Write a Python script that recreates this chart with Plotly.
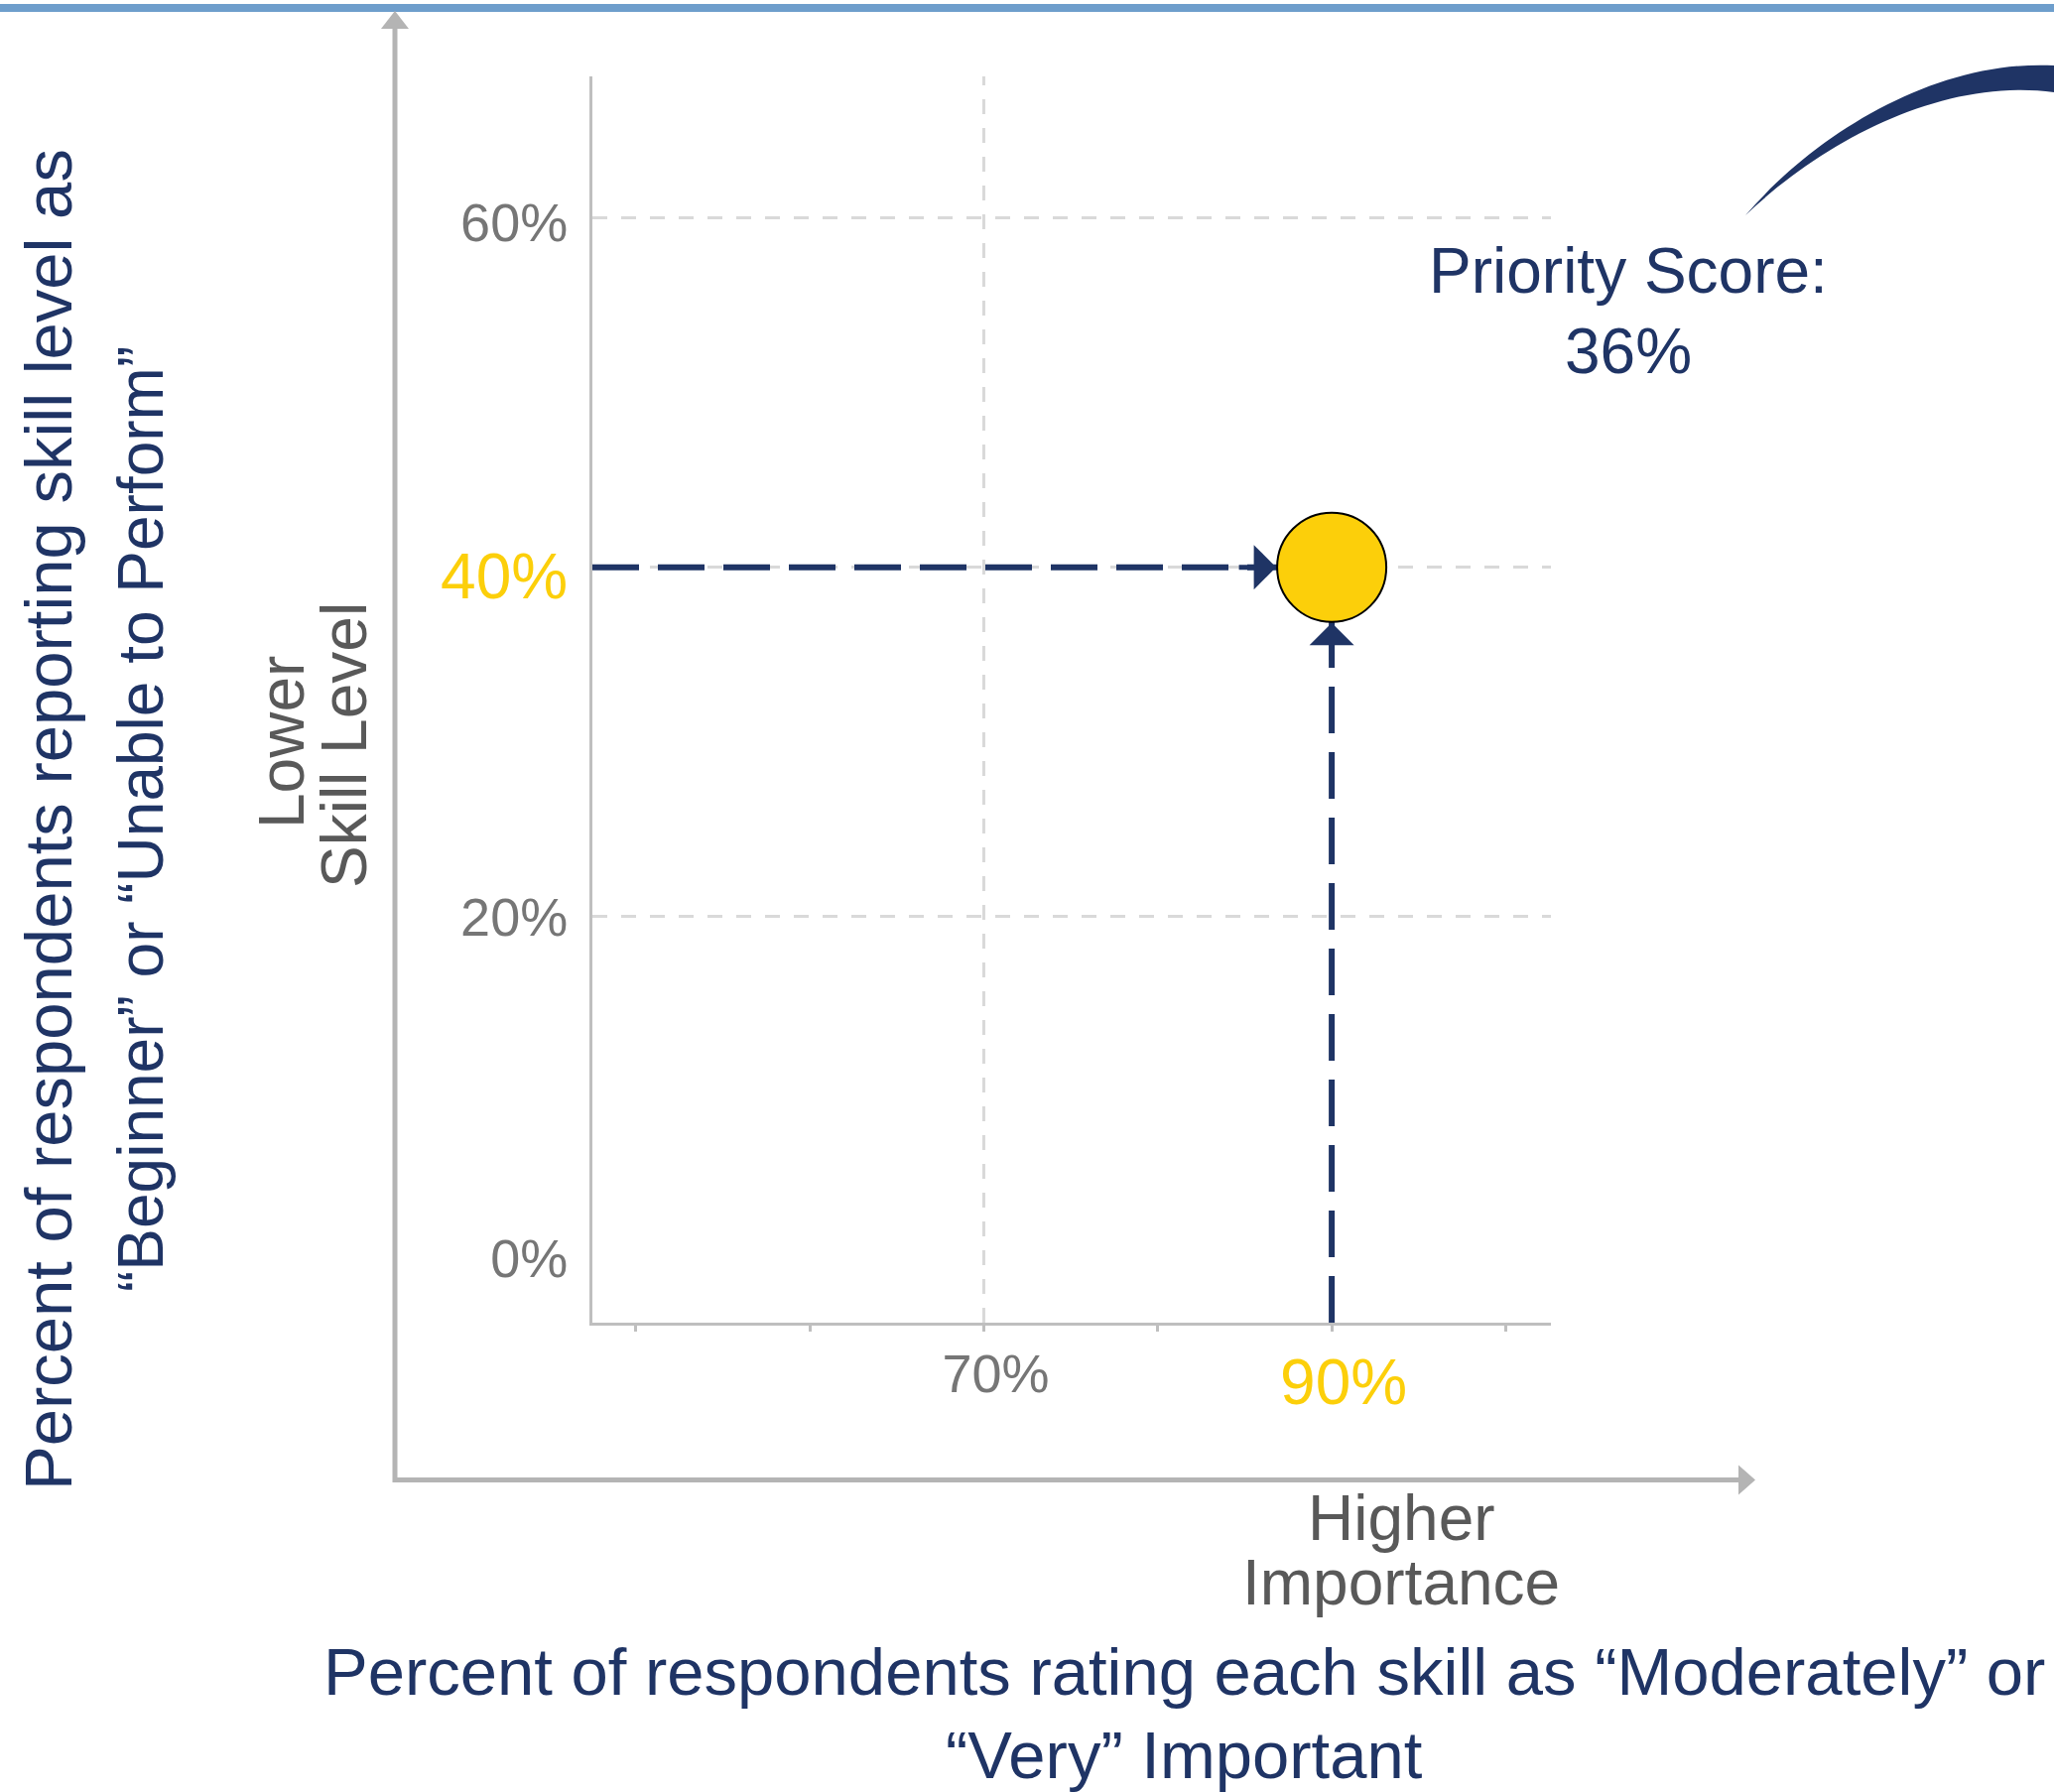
import plotly.graph_objects as go

# ---- data -------------------------------------------------------------
importance_pct = [90]          # % rating the skill "Moderately"/"Very" important
low_skill_pct = [40]           # % reporting "Beginner"/"Unable to Perform"

x_tick_vals = [50, 60, 70, 80, 90, 100]
x_labelled = [70, 90]
y_tick_vals = [0, 20, 40, 60]
x_grid_vals = [70]

x_title_lines = ["Percent of respondents rating each skill as \u201cModerately\u201d or",
                 "\u201cVery\u201d Important"]
y_title_lines = ["Percent of respondents reporting skill level as",
                 "\u201cBeginner\u201d or \u201cUnable to Perform\u201d"]

# ---- style ------------------------------------------------------------
W, H = 2070, 1806
FONT = "Liberation Sans, Arial, sans-serif"
NAVY = "#1F3465"
YELLOW = "#FCCF0A"
TICK_GREY = "#767676"
LABEL_GREY = "#595959"
AXIS_GREY = "#BFBFBF"
GRID_GREY = "#D9D9D9"
ARROW_GREY = "#B4B4B4"
BAR_BLUE = "#6E9ECC"

X_RANGE = [47.5, 102.6]
Y_RANGE = [-3.24, 68.1]
MARKER_D = 110

# small vertical nudges for individual tick labels (px, positive = up)
x_label_lift = {70: 12}
y_label_lift = {0: 8, 60: -4, 40: -12}


def px(x):
    return x / W


def py(y):
    return 1 - y / H


def path_px(points):
    """Build an SVG path (paper coords) from (cmd, (x, y), ...) pixel entries."""
    parts = []
    for cmd, *pts in points:
        coords = " ".join(f"{px(a):.5f},{py(b):.5f}" for a, b in pts)
        parts.append(f"{cmd}{coords}")
    return " ".join(parts) + " Z"


pt_x, pt_y = importance_pct[0], low_skill_pct[0]
priority = pt_x * pt_y / 100


def tick_label(v, highlight, lift):
    style = f"baseline-shift:{lift}px;" if lift else ""
    if highlight:
        style += f"color:{YELLOW};font-size:64px;"
    text = f"{v}%"
    return f'<span style="{style}">{text}</span>' if style else text


x_tick_text = [tick_label(v, v == pt_x, x_label_lift.get(v, 0)) if v in x_labelled else ""
               for v in x_tick_vals]
y_tick_text = [tick_label(v, v == pt_y, y_label_lift.get(v, 0)) for v in y_tick_vals]

fig = go.Figure()

# dashed guide lines from the axes to the point
guide = dict(color=NAVY, width=6, dash="47px,19px")
fig.add_trace(go.Scatter(x=[X_RANGE[0], pt_x], y=[pt_y, pt_y], mode="lines",
                         line=guide, hoverinfo="skip"))
fig.add_trace(go.Scatter(x=[pt_x, pt_x], y=[Y_RANGE[0], pt_y], mode="lines",
                         line=guide, hoverinfo="skip"))

# the skill point
fig.add_trace(go.Scatter(
    x=importance_pct, y=low_skill_pct, mode="markers",
    marker=dict(size=MARKER_D, color=YELLOW, line=dict(color="#000000", width=2)),
    hoverinfo="skip"))

shapes = [
    # header rule
    dict(type="rect", xref="paper", yref="paper", x0=0, x1=1, y0=py(12), y1=py(4),
         fillcolor=BAR_BLUE, line=dict(width=0), layer="above"),
    # outer "higher / lower" arrows
    dict(type="line", xref="paper", yref="paper", x0=px(398), x1=px(398),
         y0=py(1494), y1=py(26), line=dict(color=ARROW_GREY, width=5)),
    dict(type="path", xref="paper", yref="paper",
         path=path_px([("M", (398, 11)), ("L", (384, 29)), ("L", (412, 29))]),
         fillcolor=ARROW_GREY, line=dict(width=0)),
    dict(type="line", xref="paper", yref="paper", x0=px(396), x1=px(1754),
         y0=py(1491.5), y1=py(1491.5), line=dict(color=ARROW_GREY, width=5)),
    dict(type="path", xref="paper", yref="paper",
         path=path_px([("M", (1769, 1491.5)), ("L", (1752, 1476.5)), ("L", (1752, 1506.5))]),
         fillcolor=ARROW_GREY, line=dict(width=0)),
    # decorative swoosh
    dict(type="path", xref="paper", yref="paper",
         path=path_px([("M", (1759, 217)),
                       ("C", (1830, 135), (1950, 60), (2070, 66)),
                       ("L", (2070, 93)),
                       ("C", (1960, 78), (1840, 140), (1759, 217))]),
         fillcolor=NAVY, line=dict(width=0)),
]
for gx in x_grid_vals:
    shapes.append(dict(type="line", xref="x", yref="y domain", x0=gx, x1=gx, y0=0, y1=1,
                       line=dict(color=GRID_GREY, width=3, dash="15px,14px"), layer="below"))

annotations = []
# arrowheads on the guide lines, stopping at the marker's edge
for ax_off, ay_off in [(-95, 0), (0, 95)]:
    annotations.append(dict(
        x=pt_x, y=pt_y, xref="x", yref="y", text="", showarrow=True,
        ax=ax_off, ay=ay_off, standoff=MARKER_D / 2 + 1,
        arrowhead=1, arrowsize=1.5, arrowwidth=5, arrowcolor=NAVY))


def label(text, x, y, size, color, angle=0):
    annotations.append(dict(
        text=text, x=px(x), y=py(y), xref="paper", yref="paper",
        xanchor="center", yanchor="middle", showarrow=False, textangle=angle,
        font=dict(family=FONT, size=size, color=color)))


label("Priority Score:", 1641, 273, 64, NAVY)
label(f"{priority:.0f}%", 1641, 354, 64, NAVY)
label("Higher", 1412, 1530, 64, LABEL_GREY)
label("Importance", 1412, 1595, 64, LABEL_GREY)
label("Lower", 284, 748, 64, LABEL_GREY, -90)
label("Skill Level", 347, 751, 64, LABEL_GREY, -90)
label(x_title_lines[0], 1193, 1684, 67, NAVY)
label(x_title_lines[1], 1193, 1768, 67, NAVY)
label(y_title_lines[0], 49, 826, 67, NAVY, -90)
label(y_title_lines[1], 142, 826, 64, NAVY, -90)

fig.update_layout(
    width=W, height=H,
    margin=dict(l=0, r=0, t=0, b=0),
    paper_bgcolor="white", plot_bgcolor="white",
    showlegend=False,
    font=dict(family=FONT),
    shapes=shapes,
    annotations=annotations,
    xaxis=dict(
        domain=[px(597), px(1563)], range=X_RANGE,
        showline=True, linecolor=AXIS_GREY, linewidth=3,
        ticks="outside", ticklen=6, tickwidth=3, tickcolor=AXIS_GREY,
        tickvals=x_tick_vals, ticktext=x_tick_text,
        tickfont=dict(family=FONT, size=54, color=TICK_GREY),
        ticklabelstandoff=8, ticklabelshift=12,
        showgrid=False, zeroline=False, fixedrange=True),
    yaxis=dict(
        domain=[py(1333), py(77)], range=Y_RANGE,
        showline=True, linecolor=AXIS_GREY, linewidth=3,
        ticks="", tickvals=y_tick_vals, ticktext=y_tick_text,
        tickfont=dict(family=FONT, size=54, color=TICK_GREY),
        ticklabelstandoff=11,
        showgrid=True, gridcolor=GRID_GREY, gridwidth=3, griddash="15px,14px",
        zeroline=True, zerolinecolor="rgba(0,0,0,0)", fixedrange=True),
)

fig.write_html("out.html", post_script="document.body.style.margin='0';")
